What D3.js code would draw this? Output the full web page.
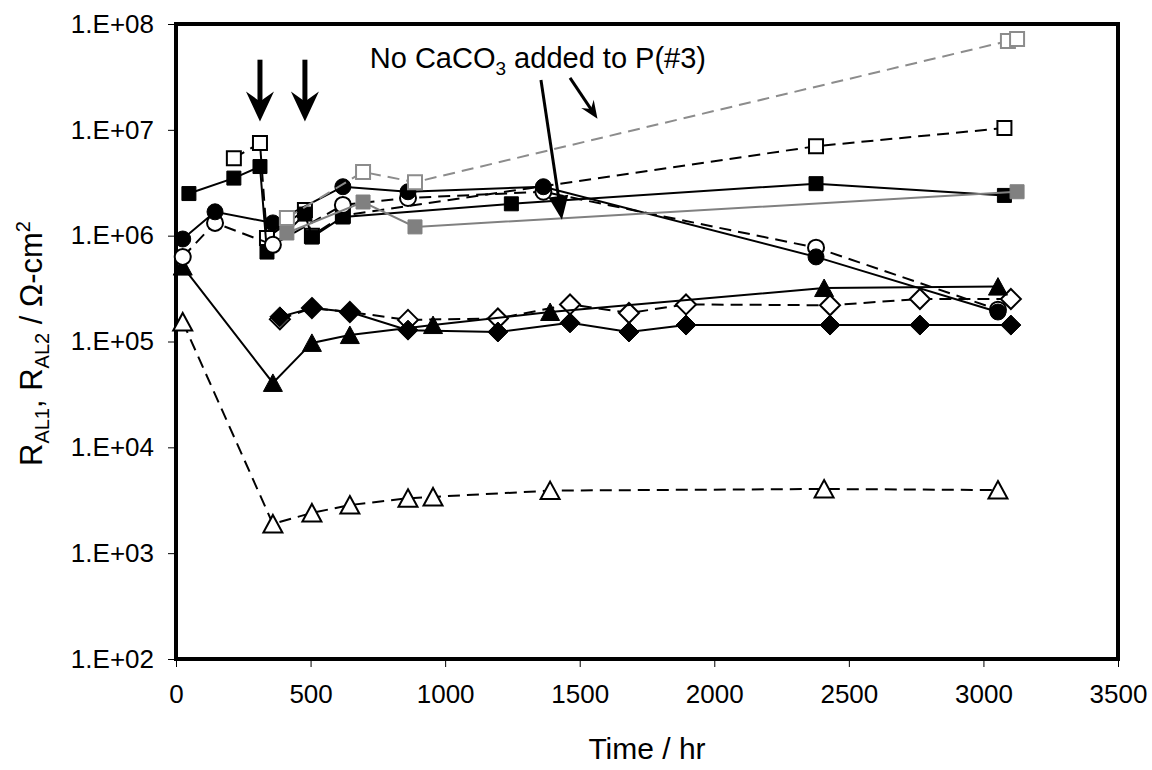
<!DOCTYPE html>
<html>
<head>
<meta charset="utf-8">
<script src="https://cdn.jsdelivr.net/npm/d3@7"></script>
<style>
  body { margin: 0; background: #fff; }
  text { font-family: Arial, "Liberation Sans", sans-serif; fill: #000; }
</style>
</head>
<body>
<div id="chart"></div>
<script>
////////////
//  DATA  //
////////////

// time (hr) and resistance (ohm-cm2) for each specimen
var tBlackSq = [48, 215, 312, 338, 479, 505, 620, 1246, 2378, 3078];
var rBlackSq = [2.5e6, 3.5e6, 4.5e6, 7.0e5, 1.6e6, 9.7e5, 1.5e6, 2.0e6, 3.1e6, 2.4e6];

var tOpenSq = [215, 312, 338, 479, 505, 620, 2378, 3078];
var rOpenSq = [5.4e6, 7.5e6, 9.5e5, 1.75e6, 1.0e6, 1.55e6, 7.0e6, 1.04e7];

var tGreyOpenSq = [412, 695, 888, 3091, 3125];
var rGreyOpenSq = [1.47e6, 4.0e6, 3.2e6, 6.9e7, 7.2e7];

var tGreySq = [412, 695, 888, 3125];
var rGreySq = [1.06e6, 2.08e6, 1.21e6, 2.6e6];

var tBlackCirc = [25, 145, 360, 620, 862, 1365, 2378, 3054];
var rBlackCirc = [9.3e5, 1.68e6, 1.32e6, 2.9e6, 2.6e6, 2.9e6, 6.3e5, 1.9e5];

var tOpenCirc = [25, 145, 360, 620, 862, 1365, 2378, 3054];
var rOpenCirc = [6.3e5, 1.32e6, 8.2e5, 1.95e6, 2.27e6, 2.6e6, 7.7e5, 2.0e5];

var tBlackTri = [25, 360, 505, 646, 955, 1390, 2408, 3054];
var rBlackTri = [5.1e5, 4.06e4, 9.7e4, 1.15e5, 1.43e5, 1.9e5, 3.2e5, 3.3e5];

var tOpenTri = [25, 360, 505, 646, 862, 955, 1390, 2408, 3054];
var rOpenTri = [1.53e5, 1.89e3, 2.4e3, 2.85e3, 3.3e3, 3.4e3, 3.9e3, 4.04e3, 3.95e3];

var tBlackDia = [386, 505, 646, 862, 1196, 1464, 1683, 1895, 2430, 2764, 3102];
var rBlackDia = [1.71e5, 2.07e5, 1.9e5, 1.28e5, 1.23e5, 1.5e5, 1.23e5, 1.43e5, 1.43e5, 1.43e5, 1.43e5];

var tOpenDia = [386, 505, 646, 862, 1196, 1464, 1683, 1895, 2430, 2764, 3102];
var rOpenDia = [1.62e5, 2.07e5, 1.9e5, 1.6e5, 1.65e5, 2.24e5, 1.86e5, 2.24e5, 2.2e5, 2.52e5, 2.52e5];

var xTicks = [0, 500, 1000, 1500, 2000, 2500, 3000, 3500];
var yTicks = [1e2, 1e3, 1e4, 1e5, 1e6, 1e7, 1e8];

// annotations (in data units)
var dropArrowTimes = [312, 479];
var dropArrowFrom = 4.6e7, dropArrowTo = 1.2e7;
var noteAt = [720, 3.85e7];
var longArrow = [[1356, 2.96e7], [1434, 1.41e6]];
var shortArrow = [[1464, 3.1e7], [1566, 1.27e7]];

//////////////////////////////
// SVG AND GRAPH DIMENSIONS //
//////////////////////////////

var svgWidth = 1152, svgHeight = 770;
var margin = { top: 24, right: 34, bottom: 111, left: 176 };
var width = svgWidth - margin.left - margin.right,
    height = svgHeight - margin.top - margin.bottom;

var svg = d3.select("#chart").append("svg")
  .attr("width", svgWidth)
  .attr("height", svgHeight);

var g = svg.append("g")
  .attr("transform", "translate(" + margin.left + "," + margin.top + ")");

var x = d3.scaleLinear().domain([0, 3500]).range([0, width]);
var y = d3.scaleLog().domain([1e2, 1e8]).range([height, 0]);

//////////
// AXES //
//////////

var yAxis = d3.axisLeft(y)
  .tickValues(yTicks)
  .tickSize(8)
  .tickPadding(14)
  .tickFormat(function (d) {
    return "1.E+" + String(Math.round(Math.log10(d))).padStart(2, "0");
  });

var xAxis = d3.axisBottom(x)
  .tickValues(xTicks)
  .tickSize(8)
  .tickPadding(18)
  .tickFormat(d3.format("d"));

g.append("g").call(yAxis)
  .call(function (a) { a.select(".domain").remove(); })
  .selectAll("text").style("font-size", "26px");

g.append("g")
  .attr("transform", "translate(0," + height + ")")
  .call(xAxis)
  .call(function (a) { a.select(".domain").remove(); })
  .selectAll("text").style("font-size", "26px");

g.selectAll(".tick line").attr("stroke", "#000");

// axis titles
svg.append("text")
  .attr("x", margin.left + width / 2)
  .attr("y", 759)
  .attr("text-anchor", "middle")
  .style("font-size", "30px")
  .text("Time / hr");

var yTitle = svg.append("text")
  .attr("transform", "translate(42," + (margin.top + height / 2 + 2) + ") rotate(-90)")
  .attr("text-anchor", "middle")
  .style("font-size", "31px");
yTitle.append("tspan").text("R");
yTitle.append("tspan").attr("dy", 7).style("font-size", "20px").text("AL1");
yTitle.append("tspan").attr("dy", -7).text(", R");
yTitle.append("tspan").attr("dy", 7).style("font-size", "20px").text("AL2");
yTitle.append("tspan").attr("dy", -7).text(" / \u03A9-cm");
yTitle.append("tspan").attr("dy", -12).style("font-size", "20px").text("2");

// plot frame
g.append("rect")
  .attr("width", width)
  .attr("height", height)
  .attr("fill", "none")
  .attr("stroke", "#000")
  .attr("stroke-width", 4);

////////////
// SERIES //
////////////

var markerPaths = {
  square: "M-7,-7H7V7H-7Z",
  circle: d3.symbol(d3.symbolCircle, Math.PI * 8 * 8)(),
  triangle: "M0,-9L9.5,8.5L-9.5,8.5Z",
  diamond: "M0,-10L10,0L0,10L-10,0Z"
};

// drawn in this order so the overlaps look like the original
var series = [
  { t: tOpenTri, r: rOpenTri, shape: "triangle", fill: "#fff", stroke: "#000", line: "#000", dash: "12,7" },
  { t: tOpenDia, r: rOpenDia, shape: "diamond", fill: "#fff", stroke: "#000", line: "#000", dash: "12,7" },
  { t: tBlackDia, r: rBlackDia, shape: "diamond", fill: "#000", stroke: "#000", line: "#000", dash: null },
  { t: tBlackTri, r: rBlackTri, shape: "triangle", fill: "#000", stroke: "#000", line: "#000", dash: null },
  { t: tOpenSq, r: rOpenSq, shape: "square", fill: "#fff", stroke: "#000", line: "#000", dash: "12,7" },
  { t: tBlackSq, r: rBlackSq, shape: "square", fill: "#000", stroke: "#000", line: "#000", dash: null },
  { t: tOpenCirc, r: rOpenCirc, shape: "circle", fill: "#fff", stroke: "#000", line: "#000", dash: "12,7" },
  { t: tBlackCirc, r: rBlackCirc, shape: "circle", fill: "#000", stroke: "#000", line: "#000", dash: null },
  { t: tGreySq, r: rGreySq, shape: "square", fill: "#808080", stroke: "#808080", line: "#808080", dash: null },
  { t: tGreyOpenSq, r: rGreyOpenSq, shape: "square", fill: "#fff", stroke: "#8c8c8c", line: "#8c8c8c", dash: "12,7" }
];

var line = d3.line()
  .x(function (d) { return x(d[0]); })
  .y(function (d) { return y(d[1]); });

series.forEach(function (s) {
  var pts = s.t.map(function (t, i) { return [t, s.r[i]]; });
  var sg = g.append("g");
  sg.append("path")
    .datum(pts)
    .attr("d", line)
    .attr("fill", "none")
    .attr("stroke", s.line)
    .attr("stroke-width", 2)
    .attr("stroke-dasharray", s.dash);
  sg.selectAll(".marker")
    .data(pts)
    .enter().append("path")
    .attr("class", "marker")
    .attr("d", markerPaths[s.shape])
    .attr("transform", function (d) { return "translate(" + x(d[0]) + "," + y(d[1]) + ")"; })
    .attr("fill", s.fill)
    .attr("stroke", s.stroke)
    .attr("stroke-width", s.fill === "#fff" ? 2 : 1);
});

/////////////////
// ANNOTATIONS //
/////////////////

// thick "stealth" arrows pointing down at the additions
dropArrowTimes.forEach(function (t) {
  var px = x(t), y0 = y(dropArrowFrom), y1 = y(dropArrowTo);
  g.append("line")
    .attr("x1", px).attr("x2", px)
    .attr("y1", y0).attr("y2", y1 - 15)
    .attr("stroke", "#000").attr("stroke-width", 5);
  g.append("path")
    .attr("d", "M0,0L-14,-30L0,-20L14,-30Z")
    .attr("transform", "translate(" + px + "," + y1 + ")")
    .attr("fill", "#000");
});

var note = g.append("text")
  .attr("x", x(noteAt[0]))
  .attr("y", y(noteAt[1]))
  .style("font-size", "29px");
note.append("tspan").text("No CaCO");
note.append("tspan").attr("dy", 7).style("font-size", "19px").text("3");
note.append("tspan").attr("dy", -7).text(" added to P(#3)");

function drawArrow(a, w, headLen, headW, stealth) {
  var x0 = x(a[0][0]), y0 = y(a[0][1]), x1 = x(a[1][0]), y1 = y(a[1][1]);
  var ang = Math.atan2(y1 - y0, x1 - x0) * 180 / Math.PI;
  var len = Math.hypot(x1 - x0, y1 - y0);
  var ag = g.append("g")
    .attr("transform", "translate(" + x0 + "," + y0 + ") rotate(" + ang + ")");
  ag.append("line")
    .attr("x1", 0).attr("y1", 0)
    .attr("x2", len - headLen * 0.6).attr("y2", 0)
    .attr("stroke", "#000").attr("stroke-width", w);
  var back = stealth ? len - headLen * 0.65 : len - headLen;
  ag.append("path")
    .attr("d", "M" + len + ",0L" + (len - headLen) + "," + (-headW / 2) +
      "L" + back + ",0L" + (len - headLen) + "," + (headW / 2) + "Z")
    .attr("fill", "#000");
}

drawArrow(longArrow, 3, 24, 20, false);
drawArrow(shortArrow, 3, 18, 15, true);
</script>
</body>
</html>
